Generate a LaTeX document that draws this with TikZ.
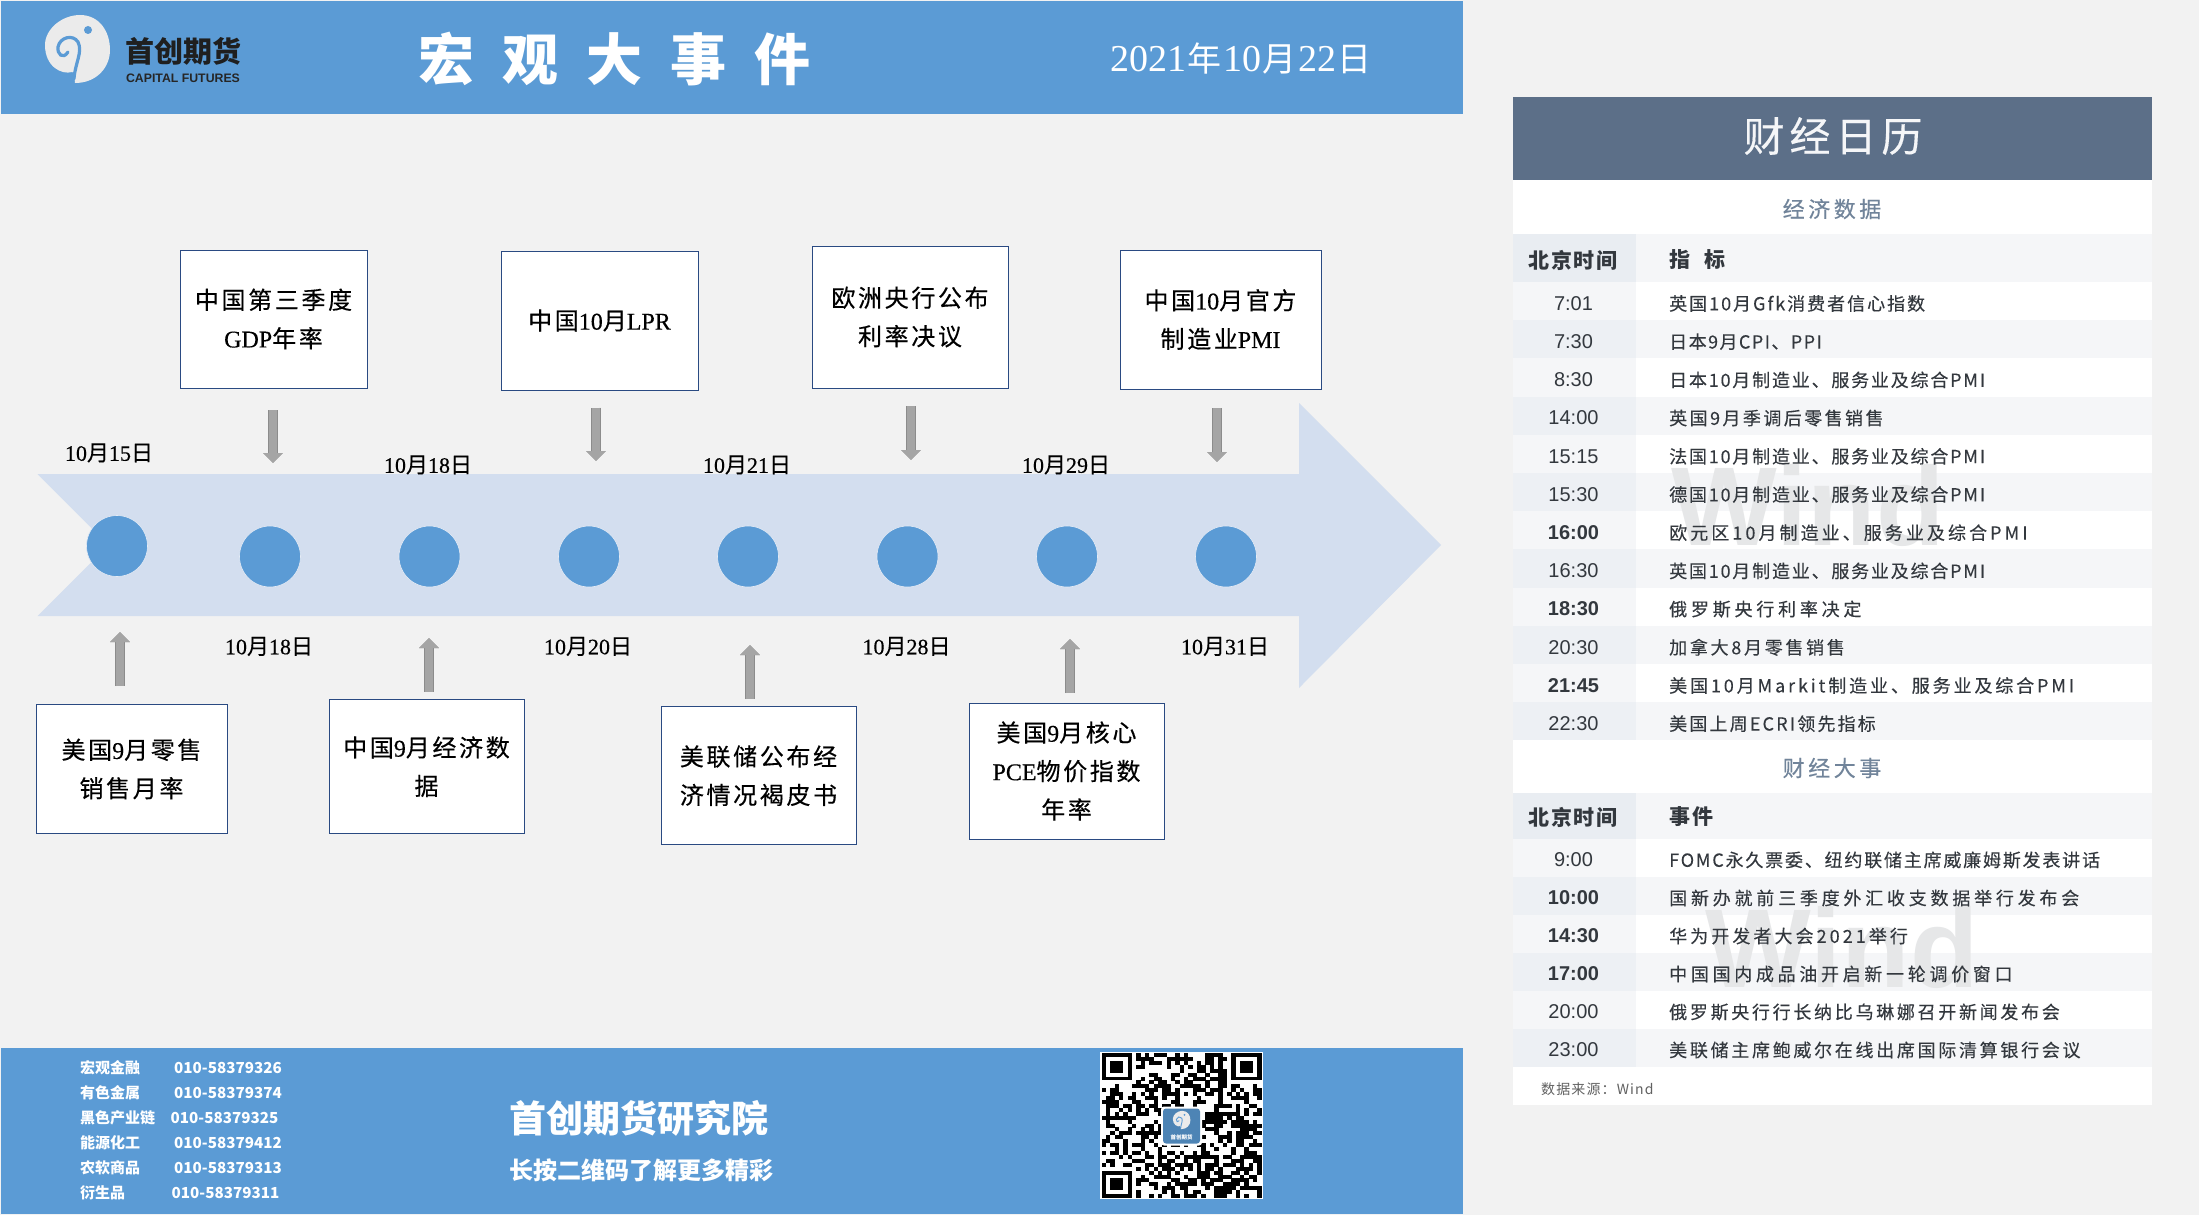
\documentclass[tikz,border=0pt]{standalone}
\usepackage{fontspec}
\usetikzlibrary{arrows.meta}
\setmainfont{Liberation Sans}
\newfontfamily\zh{Noto Sans CJK SC}
\newfontfamily\zhbox[LetterSpace=11,FakeBold=.35]{Noto Sans CJK SC}
\newfontfamily\zhdate[LetterSpace=4,FakeBold=.35]{Noto Sans CJK SC}
\newfontfamily\zhrow[FakeBold=.2]{Noto Sans CJK SC}
\newfontfamily\zhtitle[LetterSpace=50]{Noto Sans CJK SC}
\newfontfamily\zhhead[LetterSpace=9]{Noto Sans CJK SC}
\newfontfamily\zhsec[LetterSpace=16,FakeBold=.3]{Noto Sans CJK SC}
\newfontfamily\ser{Liberation Serif}
\newfontfamily\serb[FakeBold=.35]{Liberation Serif}
\newcommand{\lat}[1]{{\serb #1}}
\newcommand{\dt}[1]{\lat{10}月\lat{#1}日}
\definecolor{bandblue}{HTML}{5B9BD5}
\definecolor{pagegray}{HTML}{F2F2F2}
\definecolor{arrowblue}{HTML}{D3DEEF}
\definecolor{boxline}{HTML}{2A4A82}
\definecolor{arrowgray}{HTML}{A5A5A5}
\definecolor{arrowedge}{HTML}{8C8C8C}
\definecolor{slate}{HTML}{5C6F88}
\definecolor{sectxt}{HTML}{71849A}
\definecolor{rowtxt}{HTML}{33383E}
\definecolor{stripe}{HTML}{F5F6F8}
\definecolor{colhead}{HTML}{E9EDF2}
\definecolor{coleven}{HTML}{EDF0F4}
\definecolor{wmark}{HTML}{E6E7E8}
\tikzset{
  evbox/.style={draw=boxline,line width=1pt,fill=white,align=center,inner sep=0pt,
    font=\zhbox\fontsize{24}{38.5}\selectfont},
  datelab/.style={font=\zhdate\fontsize{22}{24}\selectfont},
  bluedot/.style={circle,fill=bandblue,draw=arrowblue!60!white,line width=.6pt,minimum size=61pt,inner sep=0pt},
  garrow/.style={draw=arrowgray,line width=8.5pt,-{Triangle[length=10pt,width=19pt]},
    preaction={draw=arrowedge,line width=10pt,-{Triangle[length=10pt,width=19pt]}}},
  foottxt/.style={text=white,anchor=west,inner sep=0pt,font=\zh\bfseries\fontsize{15}{17}\selectfont},
  timecell/.style={text=rowtxt,font=\fontsize{20}{22}\selectfont},
  rowcell/.style={text=rowtxt,anchor=west,inner sep=0pt,font=\zhrow\fontsize{18}{20}\selectfont},
  headcell/.style={text=rowtxt,font=\zhhead\bfseries\fontsize{21}{23}\selectfont},
  secthead/.style={text=sectxt,font=\zhsec\fontsize{22}{24}\selectfont},
  pics/swirl/.style={code={
    \fill[white!92!black] (-2,34) .. controls (-3,27) and (-2,23) .. (-5,23)
      .. controls (-15,26) and (-32,18) .. (-32,-4)
      .. controls (-32,-20) and (-15,-34) .. (3,-34)
      .. controls (22,-34) and (33,-18) .. (33,1)
      .. controls (33,18) and (20,34) .. (-2,34) -- cycle;
    \draw[bandblue,line width=#1,line cap=round] (-3,30) .. controls (-2,14) and (6,3) .. (1,-7)
      .. controls (-4,-15) and (-17,-12) .. (-19,-2) .. controls (-20,5) and (-14,11) .. (-9,3);
    \fill[bandblue] (11,-19) circle (4);
  }},
  pics/finder/.style={code={
    \fill[black] (0,0) rectangle (7,7);
    \fill[white] (1,1) rectangle (6,6);
    \fill[black] (2,2) rectangle (5,5);
  }}
}
\begin{document}
\begin{tikzpicture}[x=1pt,y=-1pt]
\useasboundingbox (0,0) rectangle (2199,1215);
\fill[pagegray] (0,0) rectangle (2199,1215);

\fill[bandblue] (1,1) rectangle (1463,114);
\fill[bandblue] (1,1048) rectangle (1463,1214);

\pic at (77,49) {swirl=3.2pt};
\node[text=black!88,inner sep=0pt,font=\zh\bfseries\fontsize{29}{31}\selectfont] (logozh) at (183,51) {首创期货};
\node[text=black!85,inner sep=0pt,font=\bfseries\fontsize{12.3}{13}\selectfont] (logoen) at (183,78) {CAPITAL FUTURES};
\node[text=white,font=\zhtitle\bfseries\fontsize{56}{60}\selectfont] (maintitle) at (614,59) {宏观大事件};
\node[text=white,inner sep=0pt,font=\zh\fontsize{34}{36}\selectfont] (maindate) at (1241,59) {{\ser\fontsize{38}{38}\selectfont 2021}\hspace{1pt}年\hspace{2pt}{\ser\fontsize{38}{38}\selectfont 10}\hspace{1pt}月\hspace{2pt}{\ser\fontsize{38}{38}\selectfont 22}\hspace{1pt}日};

\fill[arrowblue] (37.5,474) -- (1299,474) -- (1299,403) -- (1441,545) -- (1299,688)
  -- (1299,616) -- (37.5,616) -- (108.5,545) -- cycle;

\node[bluedot] (dot1) at (117,546) {};
\foreach \x [count=\i from 2] in {270,429.5,589,748,907.5,1067,1226}{
\node[bluedot] (dot\i) at (\x,556.5) {};}

\foreach \nm/\day/\x/\y in {da/15/109/453,db/18/428/465,dc/21/747/465,dd/29/1066/465,
  de/18/269/646.5,df/20/588/646.5,dg/28/906.5/646.5,dh/31/1225/646.5}{
\node[datelab] (\nm) at (\x,\y) {\dt{\day}};}

\node[evbox,minimum width=187,minimum height=138] (gdpbox) at (273.5,319) {中国第三季度\\\lat{GDP}年率};
\node[evbox,minimum width=197,minimum height=139] (lprbox) at (599.5,320.5) {中国\lat{10}月\lat{LPR}};
\node[evbox,minimum width=196,minimum height=142] (ecbbox) at (910,317) {欧洲央行公布\\利率决议};
\node[evbox,minimum width=201,minimum height=139] (pmibox) at (1220.5,319.5) {中国\lat{10}月官方\\制造业\lat{PMI}};
\node[evbox,minimum width=191,minimum height=129] (retailbox) at (131.5,769) {美国\lat{9}月零售\\销售月率};
\node[evbox,minimum width=195,minimum height=134.5] (econbox) at (426.5,766.7) {中国\lat{9}月经济数\\据};
\node[evbox,minimum width=195,minimum height=137.5] (fedbox) at (758.5,775.7) {美联储公布经\\济情况褐皮书};
\node[evbox,minimum width=195,minimum height=136] (pcebox) at (1066.5,771) {美国\lat{9}月核心\\\lat{PCE}物价指数\\年率};

\foreach \nm/\x/\ya/\yb in {gdp/273/410/463,lpr/596/407.5/461,ecb/911/406/460,pmi/1217/408/462,
  ret/120/686/632,eco/429/691.5/638,fed/750/699/645,pce/1070/693/639}{
\coordinate (\nm s) at (\x,\ya);
\coordinate (\nm e) at (\x,\yb);
\draw[garrow] (\nm s) -- (\nm e);}

\foreach \nm/\num/\x [count=\i from 0] in {宏观金融/010-58379326/174,有色金属/010-58379374/174,
  黑色产业链/010-58379325/170.5,能源化工/010-58379412/174,农软商品/010-58379313/174,衍生品/010-58379311/171.5}{
\pgfmathsetmacro{\yy}{1067.5+25.1*\i}
\node[foottxt] (dept\i) at (80,\yy) {\nm};
\node[foottxt,font=\zh\bfseries\fontsize{15.2}{17}\selectfont] (tel\i) at (\x,\yy) {\num};}

\node[text=white,anchor=west,inner sep=0pt,font=\zh\bfseries\fontsize{37}{39}\selectfont] (inst) at (509,1118.5) {首创期货研究院};
\node[text=white,anchor=west,inner sep=0pt,font=\zh\bfseries\fontsize{24}{26}\selectfont] (slogan) at (509,1170) {长按二维码了解更多精彩};

\begin{scope}[shift={(1101.7,1053)},x=4.324pt,y=-3.919pt]
\fill[white] (-.3,-.3) rectangle (37.3,37.3);
\pgfmathsetseed{4217}
\foreach \r in {0,...,36}{
\foreach \c in {0,...,36}{
\pgfmathrandominteger{\rnd}{0}{1}
\ifnum\rnd=1 \fill[black] (\c,\r) rectangle ++(1.02,1.02);\fi}}
\fill[white] (0,0) rectangle (8,8);
\fill[white] (29,0) rectangle (37,8);
\fill[white] (0,29) rectangle (8,37);
\pic at (0,0) {finder};
\pic at (30,0) {finder};
\pic at (0,30) {finder};
\end{scope}
\fill[white,rounded corners=3pt] (1161,1106.5) rectangle (1202,1145.5);
\fill[bandblue!85!black,rounded corners=3pt] (1163,1108.5) rectangle (1200,1143.5);
\pic[scale=.27] at (1181.5,1120) {swirl=.9pt};
\node[text=white,inner sep=0pt,font=\zh\bfseries\fontsize{5.5}{6}\selectfont] (qrname) at (1181.5,1137) {首创期货};

\fill[white] (1513,180) rectangle (2152,1105);
\fill[slate] (1513,97) rectangle (2152,180);
\node[text=white!94!slate,font=\zh\fontsize{41}{44}\selectfont,inner sep=0pt] (caltitle) at (1833,136) {\addfontfeature{LetterSpace=12,FakeBold=.3}财经日历};
\node[secthead] (sect1) at (1832,209) {经济数据};
\node[secthead] (sect2) at (1832,768) {财经大事};

\fill[stripe] (1513,234) rectangle (2152,282);
\fill[colhead] (1513,234) rectangle (1636,282);
\fill[stripe] (1513,792.5) rectangle (2152,839);
\fill[colhead] (1513,792.5) rectangle (1636,839);
\foreach \i in {0,...,11}{
\pgfmathsetmacro{\yy}{282+38.2*\i}
\ifodd\i
\fill[stripe] (1513,\yy) rectangle (2152,\yy+38.2);
\fill[coleven] (1513,\yy) rectangle (1636,\yy+38.2);
\else
\fill[stripe] (1513,\yy) rectangle (1636,\yy+38.2);
\fi}
\foreach \i in {0,...,5}{
\pgfmathsetmacro{\yy}{839+38*\i}
\ifodd\i
\fill[stripe] (1513,\yy) rectangle (2152,\yy+38);
\fill[coleven] (1513,\yy) rectangle (1636,\yy+38);
\else
\fill[stripe] (1513,\yy) rectangle (1636,\yy+38);
\fi}

\node[text=wmark,inner sep=0pt,font=\bfseries\fontsize{112}{112}\selectfont] (wind1) at (1808,505) {Wind};
\node[text=wmark,inner sep=0pt,font=\bfseries\fontsize{112}{112}\selectfont] (wind2) at (1842,947) {Wind};

\node[headcell] (hd1) at (1573,260) {北京时间};
\node[headcell,anchor=west,inner sep=0pt] (hd2) at (1669,260) {指\hspace{14pt}标};
\node[headcell] (hd3) at (1573,817) {北京时间};
\node[headcell,anchor=west,inner sep=0pt] (hd4) at (1669,817) {事件};

\foreach \tm/\ls/\txt [count=\i from 0] in {7:01/11/英国10月Gfk消费者信心指数,
  7:30/8/日本9月CPI、PPI,
  8:30/10/日本10月制造业、服务业及综合PMI,
  14:00/13.5/英国9月季调后零售销售,
  15:15/10/法国10月制造业、服务业及综合PMI,
  15:30/10/德国10月制造业、服务业及综合PMI,
  \bfseries 16:00/17/欧元区10月制造业、服务业及综合PMI,
  16:30/10/英国10月制造业、服务业及综合PMI,
  \bfseries 18:30/21/俄罗斯央行利率决定,
  20:30/15/加拿大8月零售销售,
  \bfseries 21:45/16/美国10月Markit制造业、服务业及综合PMI,
  22:30/12/美国上周ECRI领先指标}{
\pgfmathsetmacro{\yy}{303.5+38.2*\i}
\node[timecell] (tm\i) at (1573.5,\yy) {\tm};
\node[rowcell] (row\i) at (1669,\yy) {\addfontfeature{LetterSpace=\ls}\txt};}

\foreach \tm/\ls/\txt [count=\i from 0] in {9:00/10/FOMC永久票委、纽约联储主席威廉姆斯发表讲话,
  \bfseries 10:00/21/国新办就前三季度外汇收支数据举行发布会,
  \bfseries 14:30/17/华为开发者大会2021举行,
  \bfseries 17:00/20.5/中国国内成品油开启新一轮调价窗口,
  20:00/15/俄罗斯央行行长纳比乌琳娜召开新闻发布会,
  23:00/15/美联储主席鲍威尔在线出席国际清算银行会议}{
\pgfmathsetmacro{\yy}{860+38*\i}
\node[timecell] (etm\i) at (1573.5,\yy) {\tm};
\node[rowcell] (ev\i) at (1669,\yy) {\addfontfeature{LetterSpace=\ls}\txt};}

\node[text=black!62,anchor=west,inner sep=0pt,font=\zh\fontsize{14}{16}\selectfont] (source) at (1541,1089) {\addfontfeature{LetterSpace=8}数据来源：Wind};
\end{tikzpicture}
\end{document}
